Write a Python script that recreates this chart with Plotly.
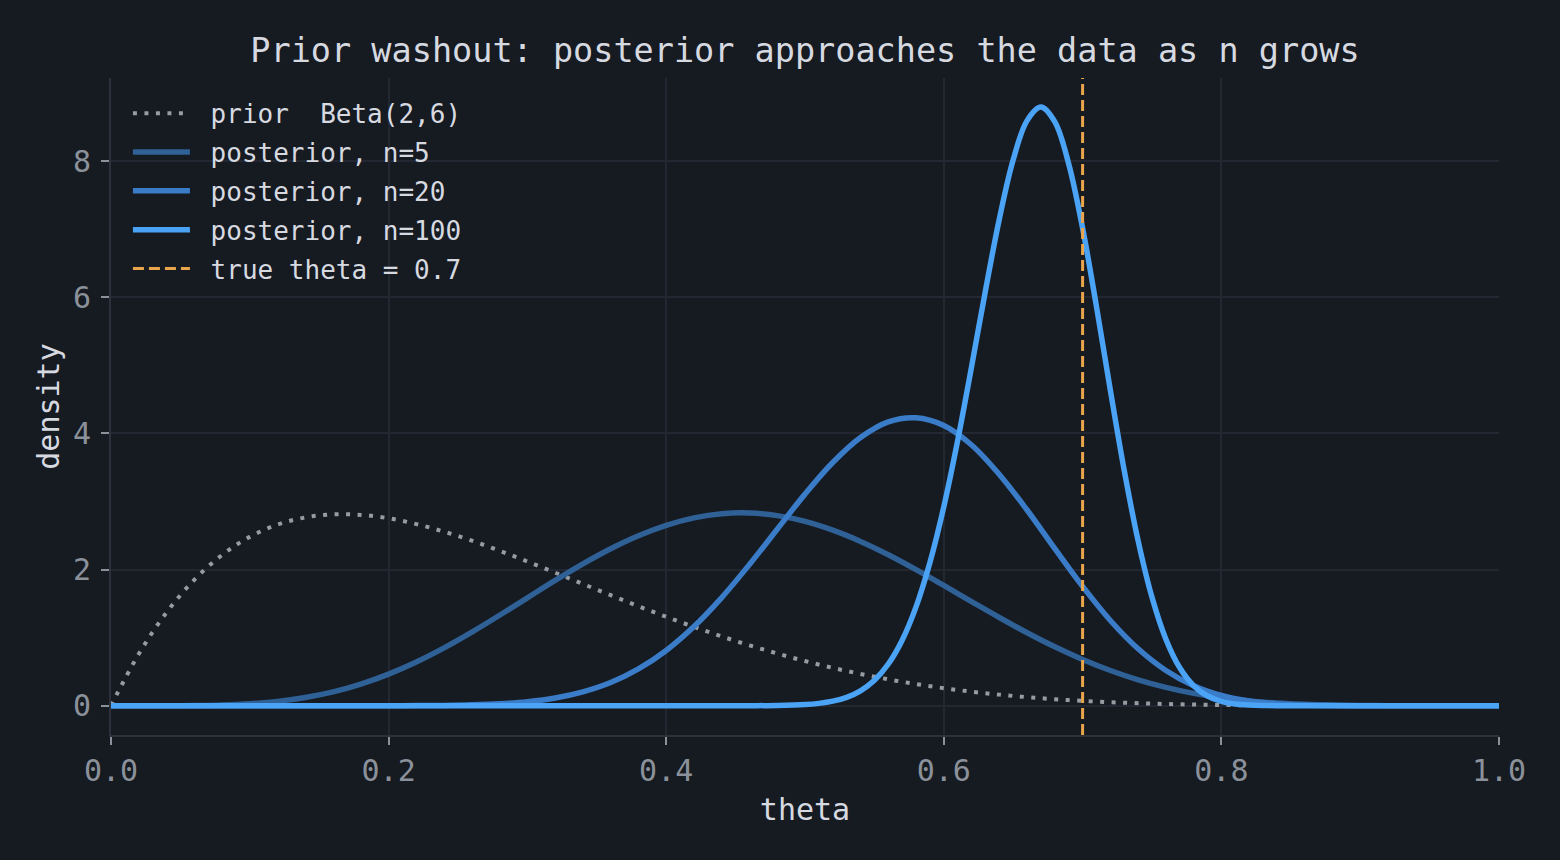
import plotly.graph_objects as go

# theta grid (step 0.02) shared by prior, n=5 and n=20 curves
THETA = [0.00, 0.02, 0.04, 0.06, 0.08, 0.10, 0.12, 0.14, 0.16, 0.18,
         0.20, 0.22, 0.24, 0.26, 0.28, 0.30, 0.32, 0.34, 0.36, 0.38,
         0.40, 0.42, 0.44, 0.46, 0.48, 0.50, 0.52, 0.54, 0.56, 0.58,
         0.60, 0.62, 0.64, 0.66, 0.68, 0.70, 0.72, 0.74, 0.76, 0.78,
         0.80, 0.82, 0.84, 0.86, 0.88, 0.90, 0.92, 0.94, 0.96, 0.98, 1.00]

PRIOR = [0, 0.759, 1.370, 1.849, 2.214, 2.480, 2.660, 2.766, 2.810, 2.803,
         2.753, 2.668, 2.556, 2.424, 2.276, 2.118, 1.954, 1.788, 1.624, 1.462,
         1.306, 1.158, 1.018, 0.887, 0.767, 0.656, 0.556, 0.467, 0.388, 0.318,
         0.258, 0.206, 0.163, 0.126, 0.096, 0.071, 0.052, 0.037, 0.025, 0.017,
         0.011, 0.0065, 0.0037, 0.0019, 0.0009, 0.0004, 0.0001, 0, 0, 0, 0]

POST_N5 = [0, 0.00002, 0.0004, 0.003, 0.011, 0.030, 0.064, 0.121, 0.204, 0.319,
           0.465, 0.643, 0.850, 1.081, 1.329, 1.585, 1.840, 2.083, 2.305, 2.496,
           2.649, 2.759, 2.820, 2.831, 2.792, 2.707, 2.578, 2.413, 2.217, 1.998,
           1.766, 1.530, 1.296, 1.072, 0.865, 0.679, 0.517, 0.380, 0.269, 0.181,
           0.116, 0.070, 0.039, 0.020, 0.009, 0.003, 0.001, 0.0002, 0, 0, 0]

POST_N20 = [0, 0, 0, 0, 0, 0, 0, 0, 0.00004, 0.00016,
            0.0006, 0.0019, 0.0051, 0.0127, 0.0286, 0.059, 0.113, 0.203, 0.340, 0.540,
            0.812, 1.163, 1.589, 2.075, 2.593, 3.108, 3.572, 3.939, 4.170, 4.229,
            4.116, 3.830, 3.397, 2.875, 2.307, 1.752, 1.252, 0.836, 0.518, 0.293,
            0.150, 0.068, 0.027, 0.009, 0.002, 0.0004, 0, 0, 0, 0, 0]

# finer grid around the sharp n=100 peak
THETA_N100 = [0.00, 0.10, 0.20, 0.30, 0.40, 0.44, 0.46, 0.48,
              0.50, 0.51, 0.52, 0.53, 0.54, 0.55, 0.56, 0.57, 0.58, 0.59,
              0.60, 0.61, 0.62, 0.63, 0.64, 0.65, 0.66, 0.67, 0.68, 0.69,
              0.70, 0.71, 0.72, 0.73, 0.74, 0.75, 0.76, 0.77, 0.78, 0.79,
              0.80, 0.81, 0.82, 0.83, 0.84, 0.86, 0.90, 1.00]
POST_N100 = [0, 0, 0, 0, 0, 0.0001, 0.0007, 0.0037,
             0.0172, 0.0346, 0.0668, 0.1236, 0.2194, 0.3741, 0.6124, 0.9623, 1.452, 2.103,
             2.922, 3.895, 4.978, 6.096, 7.148, 8.018, 8.594, 8.793, 8.575, 7.958,
             7.015, 5.862, 4.634, 3.455, 2.423, 1.592, 0.977, 0.557, 0.294, 0.1426,
             0.0631, 0.0253, 0.0091, 0.0029, 0.0008, 0.0001, 0, 0]

TRUE_THETA = 0.7

BG = '#161a21'
GRID = '#222731'
SPINE = '#2c313b'
TEXT = '#d6dae0'
TICK = '#8b919a'
FONT = 'DejaVu Sans Mono'
PAD = '\u00a0'  # extra gap between legend line and label

fig = go.Figure()

curves = [
    (THETA, PRIOR, 'prior  Beta(2,6)', dict(color='#969ba4', width=4, dash='4px,7.5px')),
    (THETA, POST_N5, 'posterior, n=5', dict(color='#2f6096', width=5.5)),
    (THETA, POST_N20, 'posterior, n=20', dict(color='#3a7cc8', width=5.5)),
    (THETA_N100, POST_N100, 'posterior, n=100', dict(color='#4aa3f5', width=5.5)),
]
for i, (xs, ys, name, line) in enumerate(curves):
    fig.add_trace(go.Scatter(x=xs, y=ys, mode='lines', name=PAD + name,
                             line=dict(shape='spline', smoothing=1, **line),
                             legendgroup=f'g{i}'))

fig.add_vline(x=TRUE_THETA, line=dict(color='#e8a54b', width=3, dash='11px,5px'),
              showlegend=True, name=PAD + f'true theta = {TRUE_THETA}', legendgroup='g9')

fig.update_layout(
    width=1560, height=860,
    paper_bgcolor=BG, plot_bgcolor=BG,
    margin=dict(l=111, r=61, t=78, b=125),
    font=dict(family=FONT, color=TEXT),
    title=dict(text='Prior washout: posterior approaches the data as n grows',
               x=0.5, xref='paper', xanchor='center', y=1 - 50 / 860, yanchor='middle',
               font=dict(size=33.5, color=TEXT)),
    legend=dict(x=0.0122, y=0.982, xanchor='left', yanchor='top',
                bgcolor='rgba(0,0,0,0)', font=dict(size=26, color=TEXT),
                tracegroupgap=2, traceorder='grouped', itemwidth=57),
    showlegend=True,
)
fig.update_xaxes(range=[0, 1], title=dict(text='theta', font=dict(size=30, color=TEXT), standoff=12),
                 tickvals=[0, 0.2, 0.4, 0.6, 0.8, 1.0], ticktext=['0.0', '0.2', '0.4', '0.6', '0.8', '1.0'],
                 tickfont=dict(size=30, color=TICK), ticks='outside', ticklen=8, tickwidth=2, tickcolor=TICK,
                 showgrid=True, gridcolor=GRID, gridwidth=1.5, zeroline=False,
                 showline=True, linecolor=SPINE, linewidth=2)
fig.update_yaxes(range=[-0.43, 9.22], title=dict(text='density', font=dict(size=30, color=TEXT), standoff=4),
                 tickvals=[0, 2, 4, 6, 8], tickfont=dict(size=30, color=TICK),
                 ticks='outside', ticklen=8, tickwidth=2, tickcolor=TICK, ticklabelstandoff=4,
                 showgrid=True, gridcolor=GRID, gridwidth=1.5, zeroline=False,
                 showline=True, linecolor=SPINE, linewidth=2)

# page body has a default 8px margin; drop it so the figure fills the window
fig.write_html('out.html', config={'displayModeBar': False},
               post_script="document.body.style.margin='0';")
